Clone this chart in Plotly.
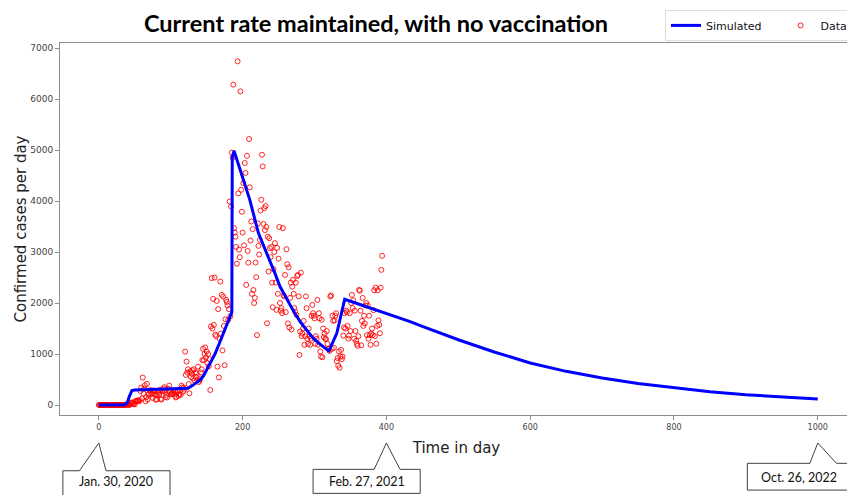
import plotly.graph_objects as go

# ---------------- data ----------------
cases = [
    1, 0, 0, 0, 0, 1, 0, 0, 0, 0,
    0, 0, 0, 0, 0, 0, 0, 0, 0, 0,
    0, 0, 0, 0, 0, 0, 0, 0, 0, 0,
    0, 0, 0, 0, 0, 2, 0, 1, 4, 14,
    9, 16, 3, 3, 47, 29, 47, 45, 15, 28,
    13, 77, 73, 82, 90, 84, 71, 96, 272, 343,
    128, 538, 227, 322, 385, 76, 152, 414, 106, 206,
    220, 284, 291, 209, 230, 140, 285, 271, 211, 102,
    198, 111, 211, 254, 199, 295, 120, 105, 276, 284,
    322, 350, 262, 156, 199, 147, 320, 279, 380, 258,
    205, 215, 226, 241, 278, 210, 268, 148, 163, 258,
    279, 180, 213, 284, 205, 380, 345, 260, 340, 300,
    1046, 590, 850, 634, 700, 410, 229, 660, 550, 620,
    680, 520, 700, 480, 640, 550, 620, 500, 750, 450,
    480, 520, 640, 700, 880, 1100, 880, 1000, 1130, 930,
    1050, 820, 1000, 760, 900, 294, 1540, 2487, 1500, 2080,
    1570, 2499, 1380, 1350, 2041, 752, 1880, 540, 1300, 2420,
    1400, 2159, 1070, 2126, 1550, 780, 1680, 2061, 2020, 1950,
    1668, 1880, 3990, 1740, 3892, 4950, 4850, 6281, 3468, 3382,
    3300, 3100, 2770, 6738, 4150, 3048, 2898, 6150, 4220, 3790,
    3380, 4350, 3130, 4744, 4550, 2355, 4887, 3020, 2790, 5214,
    4270, 3225, 3598, 2180, 3448, 2255, 2000, 2100, 2793, 2506,
    1370, 3560, 3120, 2950, 3238, 3813, 4024, 4907, 4678, 3550,
    3860, 3430, 3900, 3490, 1603, 3300, 2617, 3270, 3075, 2900,
    3100, 2400, 1917, 2663, 3000, 3174, 2400, 1865, 3080, 2180,
    2870, 3490, 2000, 1850, 1900, 1800, 3467, 2150, 2130, 2550,
    1820, 3055, 2760, 1600, 2700, 1520, 2100, 2400, 1480, 2320,
    2453, 2180, 1900, 1830, 2400, 1766, 2530, 2550, 2130, 981,
    1440, 2594, 1350, 1400, 1500, 1649, 1180, 1350, 2130, 1897,
    1300, 1200, 1500, 1350, 1180, 1300, 1750, 1962, 1800, 1750,
    1700, 1200, 1350, 1300, 2061, 1180, 1800, 1700, 1050, 950,
    1670, 936, 1500, 1330, 1400, 1300, 1290, 1450, 1200, 1100,
    1100, 1060, 2126, 2150, 1100, 1750, 1650, 1120, 1660, 1750,
    1800, 860, 920, 770, 1050, 730, 950, 1080, 900, 950,
    1360, 1520, 1800, 1500, 1850, 1820, 1550, 1300, 1360, 1800,
    1450, 2000, 2159, 1900, 2050, 1300, 1850, 1450, 1260, 1200,
    1160, 1350, 2257, 2240, 1850, 1170, 1650, 2100, 1550, 1750,
    1600, 1950, 2000, 1370, 1950, 1300, 1750, 1370, 1180, 1400,
    1500, 1370, 1860, 2250, 1350, 2300, 1200, 1550, 2250, 1660,
    1570, 1407, 2300, 2650, 2925,
]
data_days = list(range(len(cases)))

sim_days = [0, 30, 35, 38, 40, 42, 44, 46, 50, 80, 110, 124, 130, 135, 141, 146,
            150, 155, 162, 168, 173, 178, 182.6, 185, 185.6, 188, 195, 200, 210,
            222, 230, 238, 245, 252, 259, 266, 273, 280, 289, 298, 309, 320, 331,
            342, 355, 372, 400, 419, 433, 450, 500, 550, 600, 650, 700, 750, 800,
            850, 900, 950, 1000]
sim_vals = [0, 0, 3, 20, 60, 150, 240, 285, 295, 305, 318, 327, 380, 430, 490, 580,
            687, 800, 1014, 1220, 1407, 1590, 1766, 1820, 4850, 4985, 4680, 4450, 4023,
            3370, 3100, 2846, 2580, 2322, 2130, 1963, 1790, 1635, 1470, 1309, 1180, 1060, 1407,
            2074, 2010, 1930, 1800, 1701, 1635, 1540, 1280, 1040, 824, 660, 530, 420, 334,
            260, 200, 155, 118]

x_ticks = [0, 200, 400, 600, 800, 1000]
y_ticks = [0, 1000, 2000, 3000, 4000, 5000, 6000, 7000]

callout_days = [0, 400, 1000]
callout_labels = ["Jan. 30, 2020", "Feb. 27, 2021", "Oct. 26, 2022"]

# ---------------- figure ----------------
# the page body adds an 8 px offset, so the figure is 8 px smaller than the window
W, H = 847, 487

fig = go.Figure()
fig.add_trace(go.Scatter(
    x=data_days, y=cases, mode="markers", name="Data", legendrank=2,
    marker=dict(symbol="circle-open", size=5, color="rgba(255,0,0,0.85)",
                line=dict(width=1)),
))
fig.add_trace(go.Scatter(
    x=sim_days, y=sim_vals, mode="lines",
    name="Simulated\u00a0\u00a0\u00a0\u00a0", legendrank=1,
    line=dict(color="#0000ff", width=3),
))

# callout geometry (x offsets in axis units, y in paper units)
geo = [
    dict(bl=-50, br=99, pl=-27, pr=10, top=-0.1499, bot=-0.26, ty=-0.180),
    dict(bl=-102, br=47, pl=-17, pr=19, top=-0.1461, bot=-0.2107, ty=-0.180),
    dict(bl=-98, br=47, pl=-11, pr=26, top=-0.1299, bot=-0.2018, ty=-0.167),
]
tip_y = -0.0753
for d, lab, g in zip(callout_days, callout_labels, geo):
    path = (f"M {d+g['bl']},{g['top']} L {d+g['pl']},{g['top']} L {d},{tip_y} "
            f"L {d+g['pr']},{g['top']} L {d+g['br']},{g['top']} L {d+g['br']},{g['bot']} "
            f"L {d+g['bl']},{g['bot']} Z")
    fig.add_shape(type="path", path=path, xref="x", yref="paper",
                  line=dict(color="#404040", width=1), fillcolor="white", layer="above")
    fig.add_annotation(x=d + (g['bl'] + g['br']) / 2, y=g['ty'], xref="x", yref="paper",
                       text=lab, showarrow=False, xanchor="center", yanchor="middle",
                       font=dict(family="Lato", size=12.5, color="#111111"))

axis_common = dict(showline=True, linecolor="#8c8c8c", linewidth=1, mirror=True,
                   ticks="outside", ticklen=4, tickcolor="#8c8c8c", showgrid=False,
                   zeroline=False)

fig.update_layout(
    width=W, height=H,
    margin=dict(l=52, r=2, t=35, b=80, autoexpand=False),
    paper_bgcolor="white", plot_bgcolor="white",
    title=dict(text="<b>Current rate maintained, with no vaccination</b>",
               x=368 / W, xref="container", xanchor="center",
               y=1 - 15.5 / H, yref="container", yanchor="middle",
               font=dict(family="Lato", size=23.5, color="black")),
    xaxis=dict(range=[-54, 1049], tickvals=x_ticks,
               ticktext=[str(v) for v in x_ticks],
               tickfont=dict(family="DejaVu Sans", size=8, color="#444"),
               title=dict(text="Time in day", standoff=11,
                          font=dict(family="DejaVu Sans", size=15, color="#222")),
               **axis_common),
    yaxis=dict(range=[-196, 7098], tickvals=y_ticks,
               ticktext=[str(v) for v in y_ticks],
               tickfont=dict(family="DejaVu Sans", size=9, color="#444"),
               title=dict(text="Confirmed cases per day", standoff=0,
                          font=dict(family="DejaVu Sans", size=15, color="#222")),
               **axis_common),
    legend=dict(orientation="h", x=1.0, xanchor="right", y=1.089, yanchor="top",
                bgcolor="white", bordercolor="#dddddd", borderwidth=1,
                font=dict(family="DejaVu Sans", size=11, color="#111")),
    showlegend=True,
)

fig.write_html("out.html")
